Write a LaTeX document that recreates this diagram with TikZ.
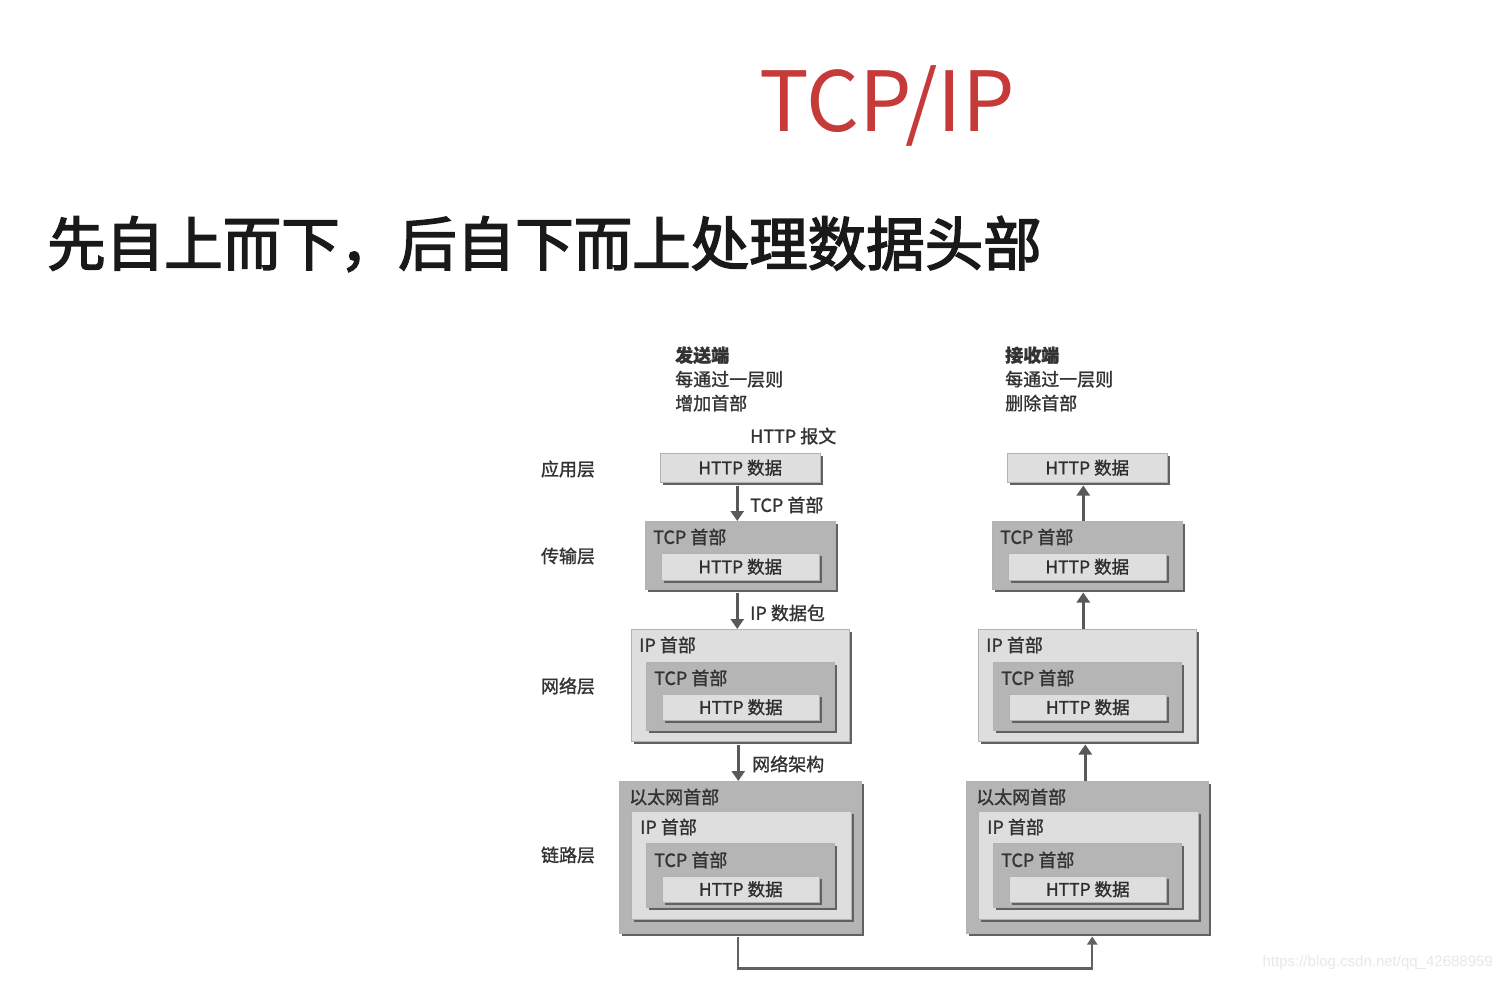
\documentclass[tikz,border=0pt]{standalone}
\usepackage{fontspec}
\newfontfamily\cjk{Noto Sans CJK SC}
\newfontfamily\cjkhead{Noto Sans CJK SC}[FakeBold=2.6]
\newfontfamily\cjkfig{Noto Sans CJK SC}[FakeBold=1.2]
\newfontfamily\urlfont{Liberation Sans}
\usetikzlibrary{arrows.meta,shadows}
\definecolor{titlered}{RGB}{198,58,58}

\tikzset{
  pkt/.style={draw=black!30, line width=0.5pt, anchor=north west, inner sep=0pt,
    font=\cjkfig\fontsize{17.5}{20}\selectfont, text=black!82,
    drop shadow={shadow xshift=3pt, shadow yshift=-3pt, fill=black!62, opacity=1}},
  lite/.style={pkt, fill=black!13},
  dark/.style={pkt, fill=black!29},
  txt/.style={font=\cjkfig\fontsize{18}{24}\selectfont, text=black!80, inner sep=0pt},
  hdr/.style={txt, anchor=west},
  flow/.style={draw=black!65, line width=3pt, -{Triangle[width=13pt,length=10pt]}},
  back/.style={draw=black!62, line width=2.2pt, -{Triangle[width=10pt,length=8pt]}},
}

\begin{document}
\begin{tikzpicture}[x=1pt, y=-1pt, font=\cjk]
\useasboundingbox[fill=white] (0,0) rectangle (1502,981);

% title and lead line
\node[text=titlered, font=\cjk\fontsize{83}{83}\selectfont, inner sep=0pt] (title) at (887,106) {TCP/IP};
\node[anchor=west, font=\cjkhead\fontsize{58.5}{60}\selectfont, text=black!90, inner sep=0pt] (lead) at (47,244) {先自上而下，后自下而上处理数据头部};

% layer names
\node[txt] (lapp) at (568,469) {应用层};
\node[txt] (ltrn) at (568,556) {传输层};
\node[txt] (lnet) at (568,686) {网络层};
\node[txt] (llnk) at (568,855) {链路层};

% notes above both columns
\node[hdr, align=left] (snote) at (675,379) {\textbf{发送端}\\每通过一层则\\增加首部};
\node[hdr, align=left] (rnote) at (1005,379) {\textbf{接收端}\\每通过一层则\\删除首部};

% packet stacks, sender (s) and receiver (r)
\foreach \side/\dx in {s/0, r/347} {
  % application
  \node[lite, minimum width=160pt, minimum height=29pt] (\side1) at (660+\dx,453) {HTTP 数据};
  % transport
  \node[dark, minimum width=190pt, minimum height=68pt] (\side2) at (645+\dx,521) {};
  \node[hdr] (\side2a) at ([shift={(8,16)}]\side2.north west) {TCP 首部};
  \node[lite, minimum width=158pt, minimum height=27pt] (\side2b) at (661+\dx,553) {HTTP 数据};
  % network
  \node[lite, minimum width=218pt, minimum height=112pt] (\side3) at (631+\dx,629) {};
  \node[hdr] (\side3a) at ([shift={(8,16)}]\side3.north west) {IP 首部};
  \node[dark, minimum width=188pt, minimum height=68pt] (\side3b) at (646+\dx,662) {};
  \node[hdr] (\side3c) at ([shift={(8,16)}]\side3b.north west) {TCP 首部};
  \node[lite, minimum width=157pt, minimum height=26pt] (\side3d) at (662+\dx,694) {HTTP 数据};
  % link
  \node[dark, minimum width=242pt, minimum height=152pt] (\side4) at (619+\dx,781) {};
  \node[hdr] (\side4a) at ([shift={(10,16)}]\side4.north west) {以太网首部};
  \node[lite, minimum width=220pt, minimum height=108pt] (\side4b) at (631+\dx,811) {};
  \node[hdr] (\side4c) at ([shift={(9,16)}]\side4b.north west) {IP 首部};
  \node[dark, minimum width=188pt, minimum height=64pt] (\side4d) at (646+\dx,843) {};
  \node[hdr] (\side4e) at ([shift={(8,17)}]\side4d.north west) {TCP 首部};
  \node[lite, minimum width=157pt, minimum height=26pt] (\side4f) at (662+\dx,876) {HTTP 数据};
}

% sender: going down
\draw[flow] ([xshift=-3pt,yshift=-3pt]s1.south) -- ([xshift=-3pt]s2.north);
\draw[flow] ([xshift=-3pt,yshift=-3pt]s2.south) -- ([xshift=-3pt]s3.north);
\draw[flow] ([xshift=-2pt,yshift=-3pt]s3.south) -- ([xshift=-2pt]s4.north);
\node[hdr] (msg) at (750,436) {HTTP 报文};
\node[hdr] (tcph) at (750,505) {TCP 首部};
\node[hdr] (ipd) at (750,613) {IP 数据包};
\node[hdr] (frm) at (752,764) {网络架构};

% receiver: going up
\draw[flow] ([xshift=-4pt]r2.north) -- ([xshift=-4pt,yshift=-3pt]r1.south);
\draw[flow] ([xshift=-4pt]r3.north) -- ([xshift=-4pt,yshift=-3pt]r2.south);
\draw[flow] ([xshift=-2pt]r4.north) -- ([xshift=-2pt,yshift=-3pt]r3.south);

% over the wire
\draw[back] ([xshift=-2pt,yshift=-3pt]s4.south) -- ++(0,32) -| ([xshift=5pt,yshift=-3pt]r4.south);

\node[anchor=east, text=black!9, font=\urlfont\fontsize{15}{15}\selectfont, inner sep=0pt] (wm) at (1493,963) {https://blog.csdn.net/qq\_42688959};
\end{tikzpicture}
\end{document}
